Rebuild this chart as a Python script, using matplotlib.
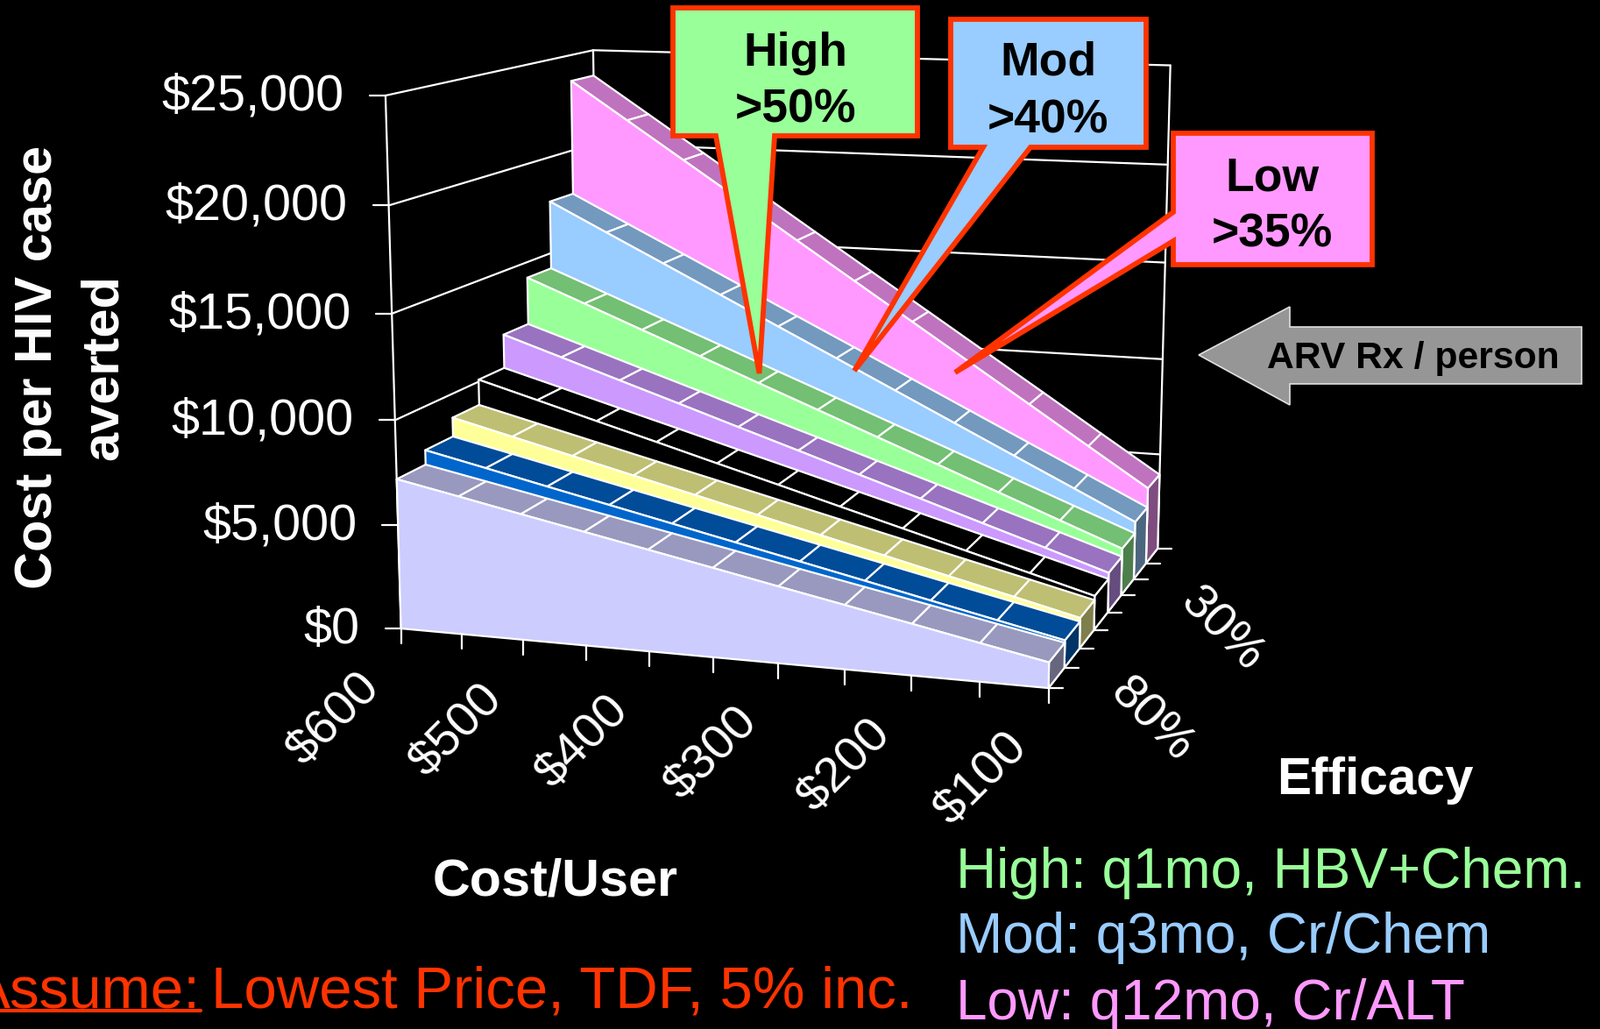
import matplotlib
matplotlib.use("Agg")
import matplotlib.pyplot as plt
import numpy as np
from matplotlib.patches import Polygon

plt.rcParams["font.family"] = ["Liberation Sans", "DejaVu Sans"]

# cost per HIV case averted, one list per efficacy row, $600 down to $100
costs = [600, 550, 500, 450, 400, 350, 300, 250, 200, 150, 100]
efficacy = [80, 70, 60, 50, 40, 30, 20, 10]
eff80 = [7200, 6600, 5990, 5390, 4790, 4190, 3580, 2980, 2380, 1770, 1170]
eff70 = [7900, 7240, 6570, 5910, 5250, 4590, 3930, 3270, 2600, 1940, 1280]
eff60 = [8830, 8090, 7350, 6610, 5880, 5140, 4400, 3660, 2920, 2190, 1450]
eff50 = [10100, 9260, 8410, 7570, 6720, 5880, 5030, 4190, 3340, 2500, 1650]
eff40 = [11800, 10820, 9830, 8850, 7860, 6880, 5890, 4910, 3920, 2940, 1950]
eff30 = [14200, 13020, 11830, 10650, 9460, 8280, 7090, 5910, 4720, 3530, 2350]
eff20 = [17700, 16220, 14750, 13270, 11790, 10320, 8840, 7360, 5880, 4410, 2930]
eff10 = [23650, 21680, 19710, 17740, 15760, 13790, 11820, 9850, 7880, 5900, 3930]
rows = [eff80, eff70, eff60, eff50, eff40, eff30, eff20, eff10]
value_ticks = [0, 5000, 10000, 15000, 20000, 25000]

# front, top and side face colours of each row
front_colors = ["#CCCCFF", "#0066CC", "#FFFF99", "#000000", "#CC99FF", "#99FF99", "#99CCFF", "#FF99FF"]
top_colors = ["#9999BF", "#004C99", "#BFBF73", "#000000", "#9973BF", "#73BF73", "#7399BF", "#BF73BF"]
side_colors = ["#66667F", "#003366", "#7F7F4C", "#000000", "#664C7F", "#4C7F4C", "#4C667F", "#7F4C7F"]

W, H = 1826, 1174
WHITE = "white"
RED = "#FF3300"
LW = 1.6


def fit_camera():
    # box corners (cost, depth, height) against where they sit in the picture
    corners = [
        ((0, 0, 0), (457, 714)),
        ((0, 0, 1), (440, 110)),
        ((0, 1, 1), (677, 56)),
        ((0, 1, 0), (685, 580)),
        ((1, 1, 1), (1335.6, 75)),
        ((1, 1, 0), (1320.7, 623.3)),
        ((1, 0, 0), (1197.3, 787.3)),
    ]
    a, b = [], []
    for (u, v, w), (x, y) in corners:
        a.append([u, v, w, 1, 0, 0, 0, 0, -x * u, -x * v, -x * w])
        a.append([0, 0, 0, 0, u, v, w, 1, -y * u, -y * v, -y * w])
        b += [x, y]
    p = np.linalg.lstsq(np.array(a, float), np.array(b, float), rcond=None)[0]
    return np.append(p, 1.0).reshape(3, 4)


CAM = fit_camera()


def project(i_cost, depth, value):
    u = i_cost / (len(costs) - 1)
    v = depth / len(efficacy)
    q = CAM @ np.array([u, v, value / value_ticks[-1], 1.0])
    return q[0] / q[2], q[1] / q[2]


def face(ax, pts, color):
    ax.add_patch(Polygon(pts, closed=True, facecolor=color, edgecolor=WHITE, lw=LW, joinstyle="round", zorder=1))


def line(ax, a, b, lw=LW, color=WHITE, zorder=2):
    ax.plot([a[0], b[0]], [a[1], b[1]], color=color, lw=lw, solid_capstyle="round", zorder=zorder)


def draw_walls(ax):
    last_c = len(costs) - 1
    last_d = len(efficacy)
    for val in value_ticks:
        a = project(0, 0, val)
        b = project(0, last_d, val)
        c = project(last_c, last_d, val)
        # the walls stay behind the rows
        line(ax, a, b, zorder=0.5)
        line(ax, b, c, zorder=0.5)
        line(ax, a, (a[0] - 18, a[1]), zorder=0.5)
    line(ax, project(0, 0, 0), project(0, 0, value_ticks[-1]), zorder=0.5)
    line(ax, project(0, last_d, 0), project(0, last_d, value_ticks[-1]), zorder=0.5)
    line(ax, project(last_c, last_d, 0), project(last_c, last_d, value_ticks[-1]), zorder=0.5)
    line(ax, project(last_c, 0, 0), project(last_c, last_d, 0), zorder=0.5)


def draw_rows(ax):
    n = len(costs)
    for d in reversed(range(len(rows))):
        vals = rows[d]
        # side face at the cheap end
        face(ax, [project(n - 1, d, 0), project(n - 1, d + 1, 0),
                  project(n - 1, d + 1, vals[-1]), project(n - 1, d, vals[-1])], side_colors[d])
        # roof strip, one panel per cost step
        for c in range(n - 1):
            face(ax, [project(c, d, vals[c]), project(c + 1, d, vals[c + 1]),
                      project(c + 1, d + 1, vals[c + 1]), project(c, d + 1, vals[c])], top_colors[d])
        front = [project(0, d, 0)] + [project(c, d, vals[c]) for c in range(n)] + [project(n - 1, d, 0)]
        face(ax, front, front_colors[d])


def draw_axis_labels(ax):
    for val in value_ticks:
        x, y = project(0, 0, val)
        ax.text(x - 47, y + 1.5, f"${val:,}", color=WHITE, fontsize=41.5, ha="right", va="center")
    for c, cost in enumerate(costs):
        x, y = project(c, 0, 0)
        line(ax, (x, y), (x, y + 17))
        if c % 2 == 0:
            ax.text(x - 76, y + 104, f"${cost}", color=WHITE, fontsize=40.5, rotation=45,
                    ha="center", va="center", rotation_mode="anchor")
    for d in range(len(efficacy) + 1):
        x, y = project(len(costs) - 1, d, 0)
        line(ax, (x, y), (x + 16, y))
    for d, eff in enumerate(efficacy):
        if d % 5 == 0:
            x, y = project(len(costs) - 1, d + 0.5, 0)
            ax.text(x + 108, y + 49, f"{eff}%", color=WHITE, fontsize=40, rotation=-45,
                    ha="center", va="center", rotation_mode="anchor")


def draw_callout(ax, outline, color, label_lines, centers):
    ax.add_patch(Polygon(outline, closed=True, facecolor=color, edgecolor=RED, lw=4.2,
                         joinstyle="miter", zorder=5))
    for txt, (x, y) in zip(label_lines, centers):
        ax.text(x, y, txt, color="black", fontsize=38.5, fontweight="bold", ha="center", va="center", zorder=6)


def draw_annotations(ax):
    draw_callout(ax, [(768, 9), (1047, 9), (1047, 155), (884, 155), (866.5, 426), (817, 155), (768, 155)],
                 "#99FF99", ["High", ">50%"], [(908, 61), (908, 125)])
    draw_callout(ax, [(1085, 22), (1308, 22), (1308, 168), (1176, 168), (975, 423), (1122, 168), (1085, 168)],
                 "#99CCFF", ["Mod", ">40%"], [(1196, 71), (1196, 137)])
    draw_callout(ax, [(1339, 152), (1566, 152), (1566, 302), (1339, 302), (1339, 275), (1090, 425), (1339, 242)],
                 "#FF99FF", ["Low", ">35%"], [(1452, 203), (1452, 268)])

    arrow = [(1368, 405), (1472, 350), (1472, 373), (1805, 373), (1805, 438), (1472, 438), (1472, 462)]
    ax.add_patch(Polygon(arrow, closed=True, facecolor="#969696", edgecolor="#E0E0E0", lw=1.2, zorder=5))
    ax.text(1613, 409, "ARV Rx / person", color="black", fontsize=30.7, fontweight="bold",
            ha="center", va="center", zorder=6)

    ax.text(81, 419, "Cost per HIV case\naverted", color=WHITE, fontsize=42.8, fontweight="bold",
            rotation=90, ha="center", va="center", multialignment="center", linespacing=1.47)
    ax.text(634, 1006, "Cost/User", color=WHITE, fontsize=42.7, fontweight="bold", ha="center", va="center")
    ax.text(1569, 891, "Efficacy", color=WHITE, fontsize=42.2, fontweight="bold", ha="center", va="center")

    ax.text(1091, 996, "High: q1mo, HBV+Chem.", color="#99FF99", fontsize=46, ha="left", va="center")
    ax.text(1091, 1070, "Mod: q3mo, Cr/Chem", color="#99CCFF", fontsize=46, ha="left", va="center")
    ax.text(1091, 1146, "Low: q12mo, Cr/ALT", color="#FF99FF", fontsize=46, ha="left", va="center")

    ax.text(229, 1133, "Assume:", color=RED, fontsize=48.5, ha="right", va="center")
    line(ax, (-5, 1153), (229, 1153), lw=3, color=RED)
    ax.text(241, 1133, "Lowest Price, TDF, 5% inc.", color=RED, fontsize=48.3, ha="left", va="center")


def main():
    fig = plt.figure(figsize=(W / 100, H / 100), dpi=100, facecolor="black")
    ax = fig.add_axes([0, 0, 1, 1])
    ax.set_xlim(0, W)
    ax.set_ylim(H, 0)
    ax.axis("off")
    draw_walls(ax)
    draw_rows(ax)
    draw_axis_labels(ax)
    draw_annotations(ax)
    fig.savefig("out.png", dpi=100, facecolor="black")


if __name__ == "__main__":
    main()
